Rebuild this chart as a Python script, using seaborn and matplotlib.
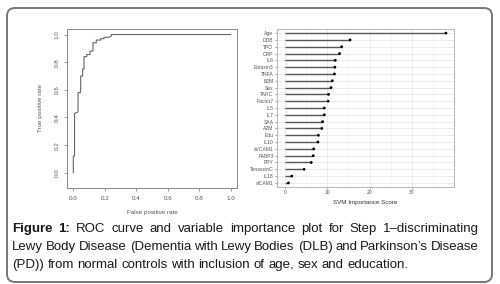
import numpy as np
import matplotlib; matplotlib.use('Agg')
import matplotlib.pyplot as plt
from matplotlib.patches import FancyBboxPatch
import seaborn as sns

# ROC curve (step points)
fpr = [0.0, 0.0, 0.008, 0.008, 0.03, 0.03, 0.045, 0.045, 0.047, 0.047, 0.059, 0.059,
       0.068, 0.068, 0.085, 0.085, 0.106, 0.106, 0.125, 0.125, 0.146, 0.146, 0.174,
       0.174, 0.195, 0.195, 0.227, 0.242, 0.242, 1.0]
tpr = [0.0, 0.12, 0.12, 0.43, 0.44, 0.58, 0.58, 0.60, 0.60, 0.70, 0.70, 0.75,
       0.75, 0.84, 0.84, 0.855, 0.855, 0.88, 0.88, 0.94, 0.94, 0.96, 0.96,
       0.97, 0.97, 0.98, 0.98, 0.99, 1.0, 1.0]
roc_ticks = [0.0, 0.2, 0.4, 0.6, 0.8, 1.0]

# variable importance, top to bottom
features = ['Age', 'DDB', 'TPO', 'CRP', 'IL6', 'Eotaxin3', 'TNFA', 'B2M', 'Sex', 'TARC',
            'Factor7', 'IL5', 'IL7', 'SAA', 'A2M', 'Edu', 'IL10', 'sVCAM1', 'FABP3',
            'PPY', 'TenascinC', 'IL18', 'sICAM1']
importance = [38.1, 15.4, 13.4, 12.9, 11.9, 11.8, 11.7, 11.2, 10.9, 10.3,
              10.2, 9.3, 9.3, 8.9, 8.7, 7.9, 7.8, 6.8, 6.7, 6.2, 4.5, 1.6, 0.8]
imp_ticks = [0, 10, 20, 30]

caption_l1 = 'ROC curve and variable importance plot for Step 1\u2013discriminating'
caption_l2 = 'Lewy Body Disease (Dementia with Lewy Bodies (DLB) and Parkinson\u2019s Disease'
caption_l3 = '(PD)) from normal controls with inclusion of age, sex and education.'

sns.set_style('white')
plt.rcParams['font.family'] = ['Liberation Sans', 'DejaVu Sans']

W, H = 500, 284
fig = plt.figure(figsize=(W / 100, H / 100), dpi=100)

def fx(px): return px / W
def fy(px): return 1 - px / H

# ---- ROC panel
ax1 = fig.add_axes([fx(67), fy(188), fx(237) - fx(67), fy(29) - fy(188)])
sns.lineplot(x=fpr, y=tpr, sort=False, estimator=None, color='#666666', lw=0.8, ax=ax1)
ax1.set_xlim(-0.04, 1.04); ax1.set_ylim(-0.11, 1.04)
ax1.set_xticks(roc_ticks); ax1.set_yticks(roc_ticks)
ax1.set_xticklabels([f'{t:.1f}' for t in roc_ticks])
ax1.set_yticklabels([f'{t:.1f}' for t in roc_ticks], rotation=90, va='center')
ax1.tick_params(length=2.5, width=0.5, color='#777777', labelsize=4.5,
                labelcolor='#555555', pad=3, bottom=True, left=True)
for s in ax1.spines.values():
    s.set_color('#888888'); s.set_linewidth(0.7)
ax1.set_xlabel('False positive rate', fontsize=4.5, color='#555555', labelpad=7)
ax1.set_ylabel('True positive rate', fontsize=4.5, color='#555555', labelpad=8)

# ---- importance panel
ax2 = fig.add_axes([fx(277), fy(187), fx(454) - fx(277), fy(29) - fy(187)])
ypos = np.arange(len(features))
ax2.set_xlim(-1.9, 40); ax2.set_ylim(len(features) - 0.4, -0.6)
for g in [5, 15, 25, 35]:
    ax2.axvline(g, color='#f4eeee', lw=0.4, zorder=0)
for g in imp_ticks:
    ax2.axvline(g, color='#ede6e6', lw=0.6, zorder=0)
for yy in ypos:
    ax2.axhline(yy, color='#ede6e6', lw=0.6, zorder=0)
ax2.hlines(ypos, 0, importance, color='#555555', lw=1.0, zorder=2)
sns.scatterplot(x=importance, y=ypos, color='black', s=4, edgecolor='none', zorder=3, ax=ax2)
ax2.set_yticks(ypos); ax2.set_yticklabels(features)
ax2.set_xticks(imp_ticks)
ax2.tick_params(length=1.5, width=0.4, color='#555555', labelsize=3.6,
                labelcolor='#555555', pad=1, bottom=True, left=True)
for s in ax2.spines.values():
    s.set_color('#bbbbbb'); s.set_linewidth(0.8)
ax2.set_xlabel('SVM Importance Score', fontsize=4.5, color='#333333', labelpad=3)

# ---- caption, first two lines justified
renderer = fig.canvas.get_renderer()
tcol = '#1a1a1a'
x0, x1 = 12, 479

def text_width(s, size, bold=False):
    t = fig.text(0, 0, s, fontsize=size, fontweight='bold' if bold else 'normal')
    w = t.get_window_extent(renderer).width
    t.remove()
    return w

# the second line sits with ordinary spacing in the reference: size the font to it
fs = 10 * (x1 - x0 + 8) / text_width(caption_l2, 10)
space = text_width('a a', fs) - text_width('aa', fs)

def put_line(words, ypx, justify=True):
    objs = []
    for w, bold in words:
        t = fig.text(0, fy(ypx), w, fontsize=fs, color=tcol, va='center',
                     fontweight='bold' if bold else 'normal')
        objs.append(t)
    widths = [t.get_window_extent(renderer).width for t in objs]
    gap = (x1 - x0 - sum(widths)) / (len(objs) - 1) if justify else space
    x = x0
    for t, wd in zip(objs, widths):
        t.set_x(fx(x))
        x += wd + gap

words1 = [('Figure', True), ('1:', True)] + [(w, False) for w in caption_l1.split()]
put_line(words1, 229)
put_line([(w, False) for w in caption_l2.split()], 247)
put_line([(w, False) for w in caption_l3.split()], 265, justify=False)

# ---- rounded frame
frame = FancyBboxPatch((7, 2), 485, 274, boxstyle='round,pad=0,rounding_size=8',
                       transform=None, fill=False, edgecolor='#777777', lw=1.4)
fig.patches.append(frame)

fig.savefig('out.png', dpi=100)
